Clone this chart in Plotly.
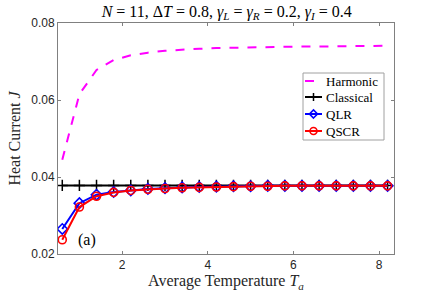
import plotly.graph_objects as go

T = [0.6, 1.0, 1.4, 1.8, 2.2, 2.6, 3.0, 3.4, 3.8, 4.2, 4.6, 5.0, 5.4, 5.8, 6.2, 6.6, 7.0, 7.4, 7.8, 8.2]
harmonic = [0.0445, 0.0615, 0.0678, 0.0704, 0.0716, 0.0723, 0.0728, 0.0731, 0.0733, 0.0735,
            0.0736, 0.0737, 0.0738, 0.0738, 0.0739, 0.0739, 0.0740, 0.0740, 0.0740, 0.0741]
classical = [0.0378] * 20
qlr = [0.0265, 0.0332, 0.0354, 0.0361, 0.0365, 0.0369, 0.0371, 0.0373, 0.0374, 0.0375,
       0.0376, 0.0376, 0.0377, 0.0377, 0.0377, 0.0377, 0.0377, 0.0377, 0.0377, 0.0377]
qscr = [0.0237, 0.0322, 0.0350, 0.0360, 0.0365, 0.0368, 0.0370, 0.0372, 0.0373, 0.0374,
        0.0375, 0.0376, 0.0376, 0.0377, 0.0377, 0.0377, 0.0377, 0.0377, 0.0377, 0.0377]
series_names = ["Harmonic", "Classical", "QLR", "QSCR"]
xticks = [2, 4, 6, 8]
yticks = [0.02, 0.04, 0.06, 0.08]

serif = "Liberation Serif"
sans = "Liberation Sans"

MAG, BLK, BLU, RED = "#ff00ff", "#000000", "#0000ff", "#ff0000"

fig = go.Figure()
fig.add_trace(go.Scatter(x=T, y=harmonic, mode="lines", name=series_names[0],
                         line=dict(color=MAG, width=2, dash="dash")))
fig.add_trace(go.Scatter(x=T, y=classical, mode="lines+markers", name=series_names[1],
                         line=dict(color=BLK, width=2),
                         marker=dict(symbol="cross-thin-open", size=8, color=BLK,
                                     line=dict(color=BLK, width=1.5))))
fig.add_trace(go.Scatter(x=T, y=qlr, mode="lines+markers", name=series_names[2],
                         line=dict(color=BLU, width=2),
                         marker=dict(symbol="diamond-open", size=8, color=BLU,
                                     line=dict(color=BLU, width=1.6))))
fig.add_trace(go.Scatter(x=T, y=qscr, mode="lines+markers", name=series_names[3],
                         line=dict(color=RED, width=2),
                         marker=dict(symbol="circle-open", size=8, color=RED,
                                     line=dict(color=RED, width=1.6))))

fig.add_annotation(x=1.17, y=0.0237, text="(a)", showarrow=False,
                   font=dict(family=serif, size=16, color="black"))

# ---- compact legend (MATLAB style) built from shapes + annotations ----
PL, PW, PT, PH = 58.0, 336.0, 23.0, 231.0   # plot area in window pixels
def px(x): return (x - PL) / PW
def py(y): return (PT + PH - y) / PH

box = dict(x0=303, x1=384, y0=73, y1=140)
rows = [81, 97, 114, 131]
fig.add_shape(type="rect", xref="paper", yref="paper",
              x0=px(box["x0"]), x1=px(box["x1"]), y0=py(box["y1"]), y1=py(box["y0"]),
              line=dict(color="#a0a0a0", width=1), fillcolor="white", layer="above")
styles = [(MAG, "dash", None), (BLK, "solid", "plus"), (BLU, "solid", "diamond"), (RED, "solid", "circle")]
for name, yr, (col, dash, mk) in zip(series_names, rows, styles):
    fig.add_shape(type="line", xref="paper", yref="paper",
                  x0=px(305), x1=px(322), y0=py(yr), y1=py(yr),
                  line=dict(color=col, width=2, dash="dash" if dash == "dash" else "solid"))
    if mk == "plus":
        fig.add_shape(type="path", xref="paper", yref="paper", xsizemode="pixel", ysizemode="pixel",
                      xanchor=px(313.5), yanchor=py(yr), path="M-4,0H4M0,-4V4",
                      line=dict(color=col, width=1.5))
    elif mk == "diamond":
        fig.add_shape(type="path", xref="paper", yref="paper", xsizemode="pixel", ysizemode="pixel",
                      xanchor=px(313.5), yanchor=py(yr), path="M0,-4L4,0L0,4L-4,0Z",
                      line=dict(color=col, width=1.6), fillcolor="rgba(0,0,0,0)")
    elif mk == "circle":
        fig.add_shape(type="circle", xref="paper", yref="paper", xsizemode="pixel", ysizemode="pixel",
                      xanchor=px(313.5), yanchor=py(yr), x0=-3.5, x1=3.5, y0=-3.5, y1=3.5,
                      line=dict(color=col, width=1.6), fillcolor="rgba(0,0,0,0)")
    fig.add_annotation(xref="paper", yref="paper", x=px(324), y=py(yr), text=name,
                       xanchor="left", yanchor="middle", showarrow=False,
                       font=dict(family=serif, size=13, color="black"))

axis_common = dict(showline=True, linecolor="#808080", linewidth=1, mirror="ticks",
                   ticks="inside", ticklen=3, tickcolor="#808080", showgrid=False,
                   zeroline=False, automargin=False,
                   tickfont=dict(family=sans, size=12, color="#262626"))

fig.update_layout(
    width=436, height=297,
    margin=dict(l=58, r=42, t=23, b=43),
    paper_bgcolor="white", plot_bgcolor="white",
    showlegend=False,
    title=dict(text="<i>N</i> = 11, Δ<i>T</i> = 0.8, <i>γ<sub>L</sub></i> = <i>γ<sub>R</sub></i> = 0.2, <i>γ<sub>I</sub></i> = 0.4",
               x=0.52, xanchor="center", y=0.962, yanchor="middle",
               font=dict(family=serif, size=16, color="black")),
    xaxis=dict(range=[0.5, 8.35], tickvals=xticks, ticktext=[str(v) for v in xticks],
               title=dict(text="Average Temperature <i>T<sub>a</sub></i>", standoff=2,
                          font=dict(family=serif, size=16, color="#262626")),
               **axis_common),
    yaxis=dict(range=[0.02, 0.08], tickvals=yticks, ticktext=["0.02", "0.04", "0.06", "0.08"],
               title=dict(text="Heat Current <i>J</i>", standoff=6,
                          font=dict(family=serif, size=16, color="#262626")),
               **axis_common),
)

fig.write_html("out.html", config={"displayModeBar": False},
               post_script="document.body.style.margin='0px';")
